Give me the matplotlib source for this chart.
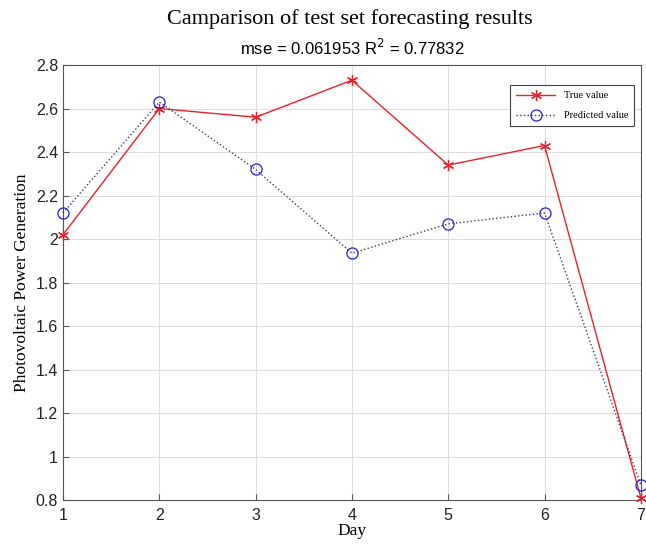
import numpy as np
import matplotlib.pyplot as plt

days = [1, 2, 3, 4, 5, 6, 7]
true_vals = [2.02, 2.60, 2.56, 2.73, 2.34, 2.43, 0.81]
pred_vals = [2.12, 2.63, 2.32, 1.935, 2.07, 2.12, 0.87]
mse = 0.061953
r2 = 0.77832

serif = ['Liberation Serif', 'DejaVu Serif']
sans = ['Liberation Sans', 'DejaVu Sans']

fig = plt.figure(figsize=(6.46, 5.49), dpi=100)
ax = fig.add_axes([0.0975, 0.089, 0.8945, 0.7926])

# asterisk marker like MATLAB's '*'
ax.plot(days, true_vals, color='#e8202a', lw=1.0, marker=(6, 2, 0), ms=8,
        markeredgewidth=0.9, label='True value', clip_on=False, zorder=3)
ax.plot(days, pred_vals, color='#3a3a6a', lw=1.0, ls=':', marker='o', ms=8,
        markerfacecolor='none', markeredgecolor='#2020d0', markeredgewidth=0.9,
        label='Predicted value', clip_on=False, zorder=3)

ax.set_xlim(1, 7)
ax.set_ylim(0.8, 2.8)
ax.set_xticks(days)
ax.set_yticks(np.arange(0.8, 2.81, 0.2))
ax.set_yticklabels(['0.8', '1', '1.2', '1.4', '1.6', '1.8', '2', '2.2', '2.4', '2.6', '2.8'])
ax.grid(True, color='#dcdcdc', lw=0.7)
ax.set_axisbelow(True)
for s in ax.spines.values():
    s.set_color('#555555')
    s.set_linewidth(0.8)
ax.tick_params(direction='in', length=4, color='#555555', labelsize=11.5,
               labelcolor='#222222')
ax.tick_params(axis='x', pad=6)
for lab in ax.get_xticklabels() + ax.get_yticklabels():
    lab.set_family(sans)

ax.set_xlabel('Day', family=serif, fontsize=12.5, labelpad=0)
ax.set_ylabel('Photovoltaic Power Generation', family=serif, fontsize=12.5, labelpad=4)

fig.text(0.542, 0.965, 'Camparison of test set forecasting results',
         family=serif, fontsize=16, ha='center', va='center')
fig.text(0.545, 0.912, 'mse = %g R$^2$ = %g' % (mse, r2),
         family=sans, fontsize=12, ha='center', va='center')

leg = ax.legend(loc='upper right', bbox_to_anchor=(0.997, 0.965), prop={'family': serif, 'size': 7.5},
                frameon=True, fancybox=False, edgecolor='#444444', framealpha=1,
                handlelength=3.8, borderpad=0.55, labelspacing=1.0)
leg.get_frame().set_linewidth(0.8)

fig.savefig('out.png', dpi=100)
